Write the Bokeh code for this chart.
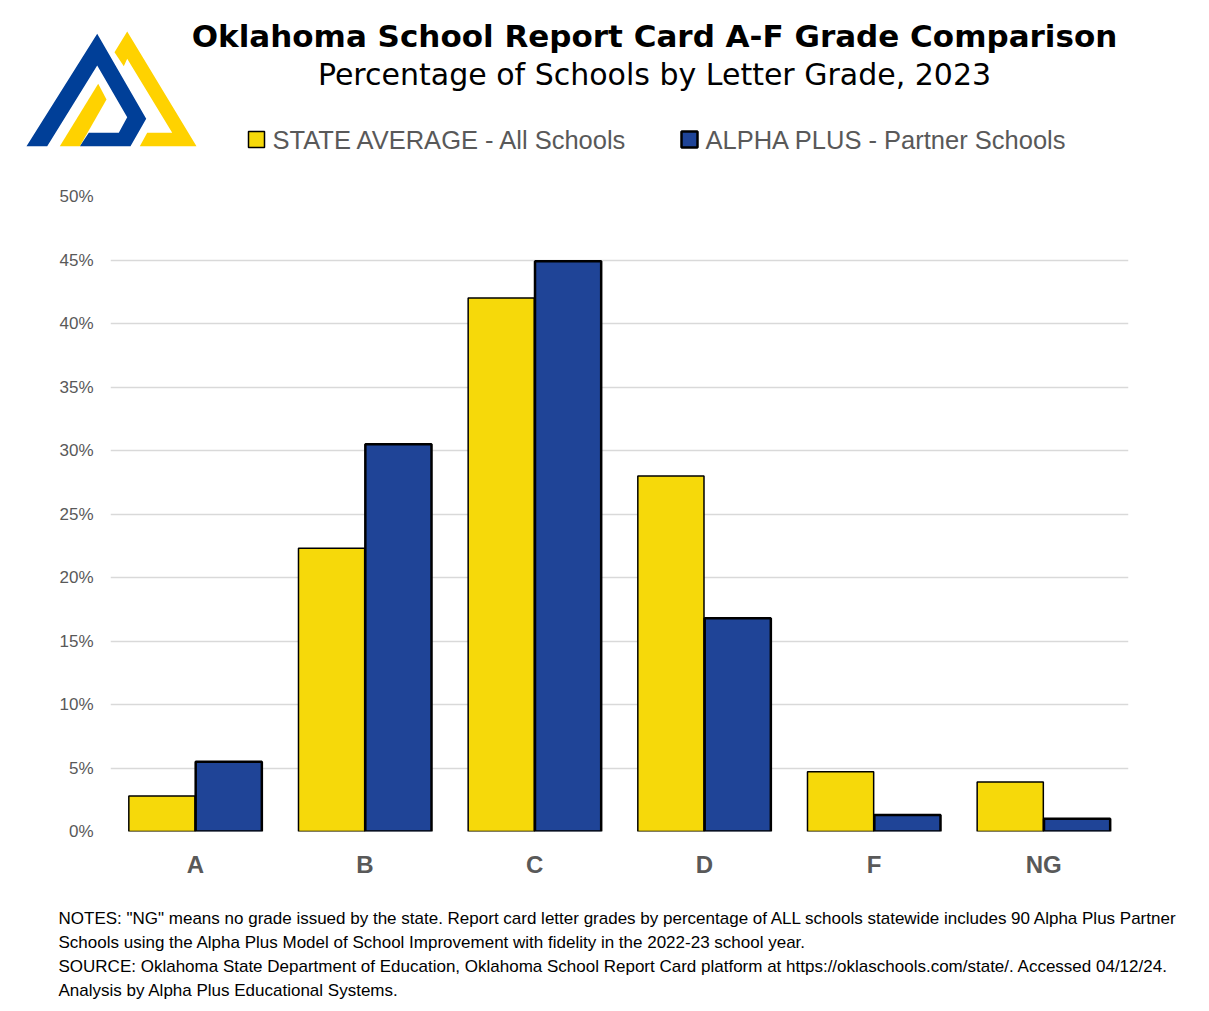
from bokeh.plotting import figure
from bokeh.models import ColumnDataSource, FactorRange, Range1d, FixedTicker, PrintfTickFormatter
from bokeh.transform import dodge
from bokeh.embed import file_html
from bokeh.resources import INLINE
from bokeh.core.properties import value

# ---------------- data ----------------
grades = ["A", "B", "C", "D", "F", "NG"]
state_avg = [2.8, 22.3, 42.0, 28.0, 4.7, 3.9]
alpha_plus = [5.5, 30.5, 44.9, 16.8, 1.3, 1.0]
y_ticks = [0, 5, 10, 15, 20, 25, 30, 35, 40, 45, 50]
series_names = ["STATE AVERAGE - All Schools", "ALPHA PLUS - Partner Schools"]
title_text = "Oklahoma School Report Card A-F Grade Comparison"
subtitle_text = "Percentage of Schools by Letter Grade, 2023"
notes_lines = [
    "NOTES: \"NG\" means no grade issued by the state. Report card letter grades by percentage of ALL schools statewide includes 90 Alpha Plus Partner",
    "Schools using the Alpha Plus Model of School Improvement with fidelity in the 2022-23 school year.",
    "SOURCE: Oklahoma State Department of Education, Oklahoma School Report Card platform at https://oklaschools.com/state/. Accessed 04/12/24.",
    "Analysis by Alpha Plus Educational Systems.",
]

# ---------------- style ----------------
W = 1193
HDR_H, MAIN_H, FTR_H = 178, 717, 110
FL, FT, FR, FB = 110, 196, 1128, 831   # frame edges (page px)
YELLOW = "#F6D90A"
BLUE = "#1F4497"
LOGO_BLUE = "#003F98"
LOGO_YELLOW = "#FFD200"
GREY = "#595959"


def blank(height, y0):
    f = figure(width=W, height=height, x_range=Range1d(0, W), y_range=Range1d(y0 + height, y0),
               output_backend="svg", toolbar_location=None, x_axis_location=None,
               y_axis_location=None, min_border=0)
    f.grid.visible = False
    f.outline_line_color = None
    f.background_fill_color = "white"
    f.border_fill_color = "white"
    return f

# ---------------- header: logo, titles, legend ----------------
hdr = blank(HDR_H, 0)
logo_blue = [(96.7, 33.3), (145.7, 118.3), (130, 145.7), (79.3, 145.7), (88.3, 132.3), (118.3, 132.3),
             (126.7, 116.7), (96.7, 65), (46.7, 145.7), (26, 145.7)]
logo_y1 = [(97.7, 83.3), (106, 99), (79.3, 145.7), (59.3, 145.7)]
logo_y2 = [(126.7, 31), (196, 145.7), (139.3, 145.7), (146.7, 132.3), (171.7, 132.3), (126.7, 58.3),
           (123.3, 65.7), (114, 51.7)]
polys = [logo_blue, logo_y1, logo_y2]
hdr.patches(xs=[[a for a, b in poly] for poly in polys], ys=[[b for a, b in poly] for poly in polys],
            fill_color=[LOGO_BLUE, LOGO_YELLOW, LOGO_YELLOW], line_color=None)

hdr.text(x=[654], y=[35], text=[title_text], text_align="center", text_baseline="middle",
         text_font=value("DejaVu Sans"), text_font_size="31px", text_font_style="bold",
         text_color="black")
hdr.text(x=[654], y=[74], text=[subtitle_text], text_align="center", text_baseline="middle",
         text_font=value("DejaVu Sans"), text_font_size="30px", text_color="black")

hdr.quad(left=[248, 681], right=[264, 697], top=[131, 131], bottom=[147, 147],
         fill_color=[YELLOW, BLUE], line_color="black", line_width=[1.5, 2.5])
hdr.text(x=[272, 705], y=[139, 139], text=series_names, text_align="left", text_baseline="middle",
         text_font=value("Liberation Sans"), text_font_size="25.5px", text_color=GREY)

# ---------------- main chart ----------------
src = ColumnDataSource(dict(grade=grades, state=state_avg, alpha=alpha_plus))
p = figure(width=W, height=MAIN_H, x_range=FactorRange(factors=grades, range_padding=0),
           y_range=Range1d(0, 50), output_backend="svg", toolbar_location=None,
           min_border_left=FL, min_border_right=W - FR, min_border_top=FT - HDR_H,
           min_border_bottom=HDR_H + MAIN_H - FB)
p.outline_line_color = None
p.background_fill_color = "white"
p.border_fill_color = "white"

p.vbar(x=dodge("grade", -0.197, range=p.x_range), top="state", width=0.39, source=src,
       fill_color=YELLOW, line_color="black", line_width=1.5)
p.vbar(x=dodge("grade", 0.197, range=p.x_range), top="alpha", width=0.39, source=src,
       fill_color=BLUE, line_color="black", line_width=2.5)

p.yaxis.ticker = FixedTicker(ticks=y_ticks)
p.yaxis.formatter = PrintfTickFormatter(format="%d%%")
p.yaxis.axis_line_color = None
p.yaxis.major_tick_line_color = None
p.yaxis.minor_tick_line_color = None
p.yaxis.major_tick_out = 0
p.yaxis.major_label_standoff = 17
p.yaxis.major_label_text_font = "Liberation Sans"
p.yaxis.major_label_text_font_size = "17px"
p.yaxis.major_label_text_color = GREY

p.xaxis.axis_line_color = None
p.xaxis.major_tick_line_color = None
p.xaxis.minor_tick_line_color = None
p.xaxis.major_tick_out = 0
p.xaxis.major_label_standoff = 19
p.xaxis.major_label_text_font = "Liberation Sans"
p.xaxis.major_label_text_font_size = "24px"
p.xaxis.major_label_text_font_style = "bold"
p.xaxis.major_label_text_color = GREY

p.xgrid.grid_line_color = None
p.ygrid.grid_line_color = "#D9D9D9"
p.ygrid.grid_line_width = 1.5

# ---------------- footer: notes ----------------
y_top = HDR_H + MAIN_H
ftr = blank(FTR_H, y_top)
ftr.text(x=[58] * 4, y=[918, 942, 966, 990], text=notes_lines, text_align="left", text_baseline="middle",
         text_font=value("Liberation Sans"), text_font_size="17px", text_color="black")

open("out.html", "w").write(file_html([hdr, p, ftr], INLINE))
